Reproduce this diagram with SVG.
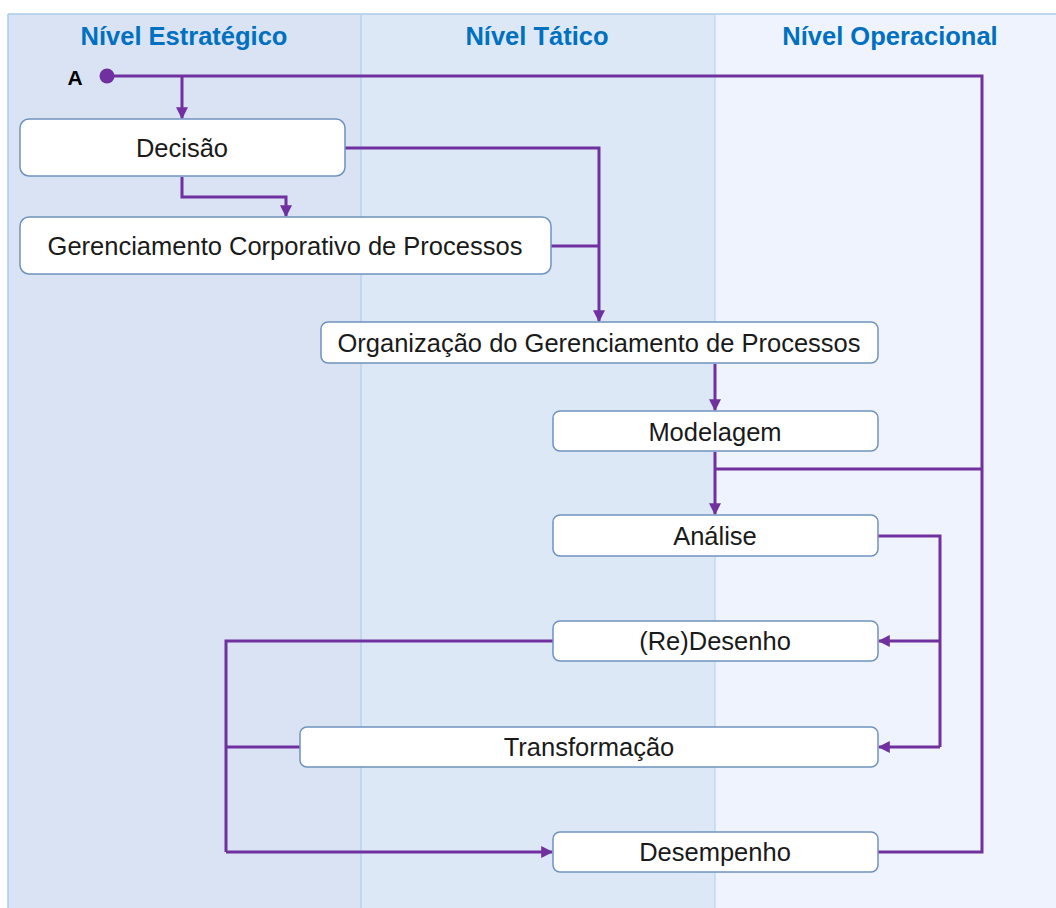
<svg xmlns="http://www.w3.org/2000/svg" width="1056" height="908" viewBox="0 0 1056 908">
  <style>
    .lane-title { font-family: "Liberation Sans", Arial, sans-serif; font-weight: bold; font-size: 25.5px; fill: #0070c0; text-anchor: middle; }
    .box { fill: #ffffff; stroke: #6f93bd; stroke-width: 1.5; }
    .label { font-family: "Liberation Sans", Arial, sans-serif; font-size: 25.5px; fill: #1a1a1a; text-anchor: middle; dominant-baseline: central; }
    .flow { fill: none; stroke: #7030a0; stroke-width: 3; stroke-linejoin: miter; }
    .arrow { fill: none; stroke: #7030a0; stroke-width: 3; marker-end: url(#head); }
  </style>
  <defs>
    <marker id="head" viewBox="0 0 10 10" refX="9" refY="5" markerWidth="4" markerHeight="4" orient="auto" markerUnits="strokeWidth">
      <path d="M0,0 L10,5 L0,10 z" fill="#7030a0"/>
    </marker>
  </defs>

  <rect width="1056" height="908" fill="#ffffff"/>

  <!-- swimlanes -->
  <g id="lanes">
    <rect x="8" y="14" width="353" height="894" fill="#d9e3f3"/>
    <rect x="361" y="14" width="354" height="894" fill="#dde8f6"/>
    <rect x="715" y="14" width="341" height="894" fill="#eef3fd"/>
    <line x1="8" y1="14" x2="1056" y2="14" stroke="#a9cbe8" stroke-width="1.5"/>
    <line x1="8" y1="14" x2="8" y2="908" stroke="#a9cbe8" stroke-width="1.5"/>
    <line x1="361" y1="14" x2="361" y2="908" stroke="#b8d3ee" stroke-width="1.5"/>
    <line x1="715" y1="14" x2="715" y2="908" stroke="#c2daf1" stroke-width="1.5"/>
    <text class="lane-title" x="184" y="45">Nível Estratégico</text>
    <text class="lane-title" x="537" y="45">Nível Tático</text>
    <text class="lane-title" x="890" y="45">Nível Operacional</text>
  </g>

  <!-- connectors -->
  <g id="connectors">
    <path class="flow" d="M107,76 H982 V852 H878"/>
    <path class="flow" d="M715,469 H982"/>
    <path class="arrow" d="M182,76 V118"/>
    <path class="arrow" d="M182,177 V197 H286 V216"/>
    <path class="arrow" d="M345,148 H599 V321"/>
    <path class="flow" d="M551,246 H599"/>
    <path class="arrow" d="M715,364 V410"/>
    <path class="arrow" d="M715,452 V514"/>
    <path class="flow" d="M878,536 H940 V747"/>
    <path class="arrow" d="M940,641 H879"/>
    <path class="arrow" d="M940,747 H879"/>
    <path class="flow" d="M553,641 H226 V852"/>
    <path class="flow" d="M300,747 H226"/>
    <path class="arrow" d="M226,852 H552"/>
    <circle cx="107" cy="76" r="7.5" fill="#7030a0"/>
    <text x="75" y="85" font-family="Liberation Sans, Arial, sans-serif" font-weight="bold" font-size="21" fill="#000000" text-anchor="middle">A</text>
  </g>

  <!-- nodes -->
  <g id="decisao">
    <rect class="box" x="20" y="119" width="325" height="57" rx="9"/>
    <text class="label" x="182" y="148">Decisão</text>
  </g>
  <g id="gerenciamento-corporativo">
    <rect class="box" x="20" y="217" width="531" height="57" rx="9"/>
    <text class="label" x="285" y="246">Gerenciamento Corporativo de Processos</text>
  </g>
  <g id="organizacao">
    <rect class="box" x="321" y="322" width="557" height="41" rx="7"/>
    <text class="label" x="599" y="343">Organização do Gerenciamento de Processos</text>
  </g>
  <g id="modelagem">
    <rect class="box" x="553" y="411" width="325" height="40" rx="7"/>
    <text class="label" x="715" y="432">Modelagem</text>
  </g>
  <g id="analise">
    <rect class="box" x="553" y="515" width="325" height="41" rx="7"/>
    <text class="label" x="715" y="536">Análise</text>
  </g>
  <g id="redesenho">
    <rect class="box" x="553" y="621" width="325" height="40" rx="7"/>
    <text class="label" x="715" y="641">(Re)Desenho</text>
  </g>
  <g id="transformacao">
    <rect class="box" x="300" y="727" width="578" height="40" rx="7"/>
    <text class="label" x="589" y="747">Transformação</text>
  </g>
  <g id="desempenho">
    <rect class="box" x="553" y="832" width="325" height="40" rx="7"/>
    <text class="label" x="715" y="852">Desempenho</text>
  </g>
</svg>
